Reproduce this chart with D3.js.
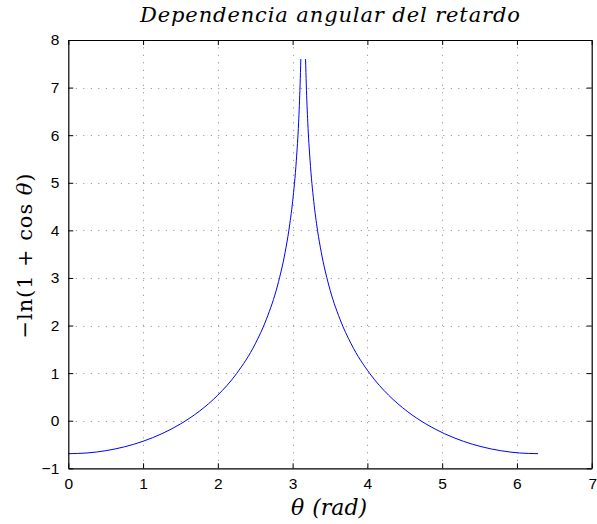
<!DOCTYPE html>
<html>
<head>
<meta charset="utf-8">
<script src="https://cdn.jsdelivr.net/npm/d3@7"></script>
<style>
  body { margin: 0; background: #fff; }
  #plot { width: 597px; height: 524px; }
</style>
</head>
<body>
<div id="plot"></div>
<script>
// values: theta (rad) and -ln(1 + cos theta)
// null at theta = pi where the curve goes to infinity (gap at the peak)
var theta = [0, 0.25, 0.5, 0.75, 1.0, 1.25, 1.5, 1.75, 2.0, 2.25, 2.5, 2.65, 2.8, 2.9, 2.95, 3.0, 3.05, 3.08, 3.10, 3.11,
             3.1416,
             3.173, 3.183, 3.203, 3.233, 3.283, 3.333, 3.383, 3.483, 3.633, 3.783, 4.033, 4.283, 4.533, 4.783, 5.033, 5.283, 5.533, 5.783, 6.033, 6.283];
var delay = [-0.693, -0.678, -0.630, -0.549, -0.432, -0.274, -0.068, 0.196, 0.538, 0.989, 1.615, 2.134, 2.851, 3.540, 4.003, 4.604, 5.475, 6.261, 7.058, 7.60,
             null,
             7.60, 7.058, 6.261, 5.475, 4.604, 4.003, 3.540, 2.851, 2.134, 1.615, 0.989, 0.538, 0.196, -0.068, -0.274, -0.432, -0.549, -0.630, -0.678, -0.693];
var xTicks = [0, 1, 2, 3, 4, 5, 6, 7];
var yTicks = [-1, 0, 1, 2, 3, 4, 5, 6, 7, 8];

var titleText = "Dependencia angular del retardo";

var view = {
    w: 597,
    h: 524,
    left: 68.3,
    right: 591.7,
    top: 40,
    bottom: 468.3
};

var svg = d3.select("#plot")
            .append("svg")
            .attr("width", view.w)
            .attr("height", view.h);

var xScale = d3.scaleLinear().domain([0, 7]).range([view.left, view.right]),
    yScale = d3.scaleLinear().domain([-1, 8]).range([view.bottom, view.top]);

var points = theta.map(function(t, i){ return { x: t, y: delay[i] }; });

// grid
var g_grid = svg.append("g");
g_grid.selectAll(".vgrid")
    .data(xTicks.slice(1, -1))
    .enter().append("line")
    .attr("x1", function(d){ return Math.round(xScale(d)) + 0.5; })
    .attr("x2", function(d){ return Math.round(xScale(d)) + 0.5; })
    .attr("y1", view.bottom)
    .attr("y2", view.top)
    .style("stroke", "#8a8a8a")
    .style("stroke-width", 1)
    .style("stroke-dasharray", "1,6.5");
g_grid.selectAll(".hgrid")
    .data(yTicks.slice(1, -1))
    .enter().append("line")
    .attr("y1", function(d){ return Math.round(yScale(d)) + 0.5; })
    .attr("y2", function(d){ return Math.round(yScale(d)) + 0.5; })
    .attr("x1", view.left)
    .attr("x2", view.right)
    .style("stroke", "#8a8a8a")
    .style("stroke-width", 1)
    .style("stroke-dasharray", "1,6.5");

// curve
var line = d3.line()
    .defined(function(d){ return d.y !== null; })
    .x(function(d){ return xScale(d.x); })
    .y(function(d){ return yScale(d.y); })
    .curve(d3.curveMonotoneX);

svg.append("path")
    .datum(points)
    .attr("d", line)
    .style("fill", "none")
    .style("stroke", "#0000ff")
    .style("stroke-width", 1);

// axes (ticks inside, mirrored on top and right)
var tickLen = 5;
var fmt = function(d){ return d < 0 ? "\u2212" + Math.abs(d) : String(d); };
var xAxisB = d3.axisBottom(xScale).tickValues(xTicks).tickSizeInner(-tickLen).tickSizeOuter(0).tickPadding(10).tickFormat(fmt),
    xAxisT = d3.axisTop(xScale).tickValues(xTicks).tickSizeInner(-tickLen).tickSizeOuter(0).tickFormat(""),
    yAxisL = d3.axisLeft(yScale).tickValues(yTicks).tickSizeInner(-tickLen).tickSizeOuter(0).tickPadding(9).tickFormat(fmt),
    yAxisR = d3.axisRight(yScale).tickValues(yTicks).tickSizeInner(-tickLen).tickSizeOuter(0).tickFormat("");

var axes = [
    svg.append("g").attr("transform", "translate(0," + view.bottom + ")").call(xAxisB),
    svg.append("g").attr("transform", "translate(0," + view.top + ")").call(xAxisT),
    svg.append("g").attr("transform", "translate(" + view.left + ",0)").call(yAxisL),
    svg.append("g").attr("transform", "translate(" + view.right + ",0)").call(yAxisR)
];
axes.forEach(function(g){
    g.attr("font-family", "'Liberation Sans', Arial, sans-serif").attr("font-size", 15.5);
    g.select(".domain").style("stroke", "#000").style("stroke-width", 1.2);
    g.selectAll(".tick line").style("stroke", "#000").style("stroke-width", 1);
    g.selectAll(".tick text").attr("fill", "#000");
});
// last x label sits against the right edge
axes[0].selectAll(".tick text").filter(function(d){ return d === 7; }).attr("text-anchor", "end").attr("dx", 5);

// title
svg.append("text")
    .attr("x", 330)
    .attr("y", 22)
    .attr("text-anchor", "middle")
    .attr("textLength", 380)
    .attr("lengthAdjust", "spacing")
    .style("font-family", "'DejaVu Serif', 'Liberation Serif', serif")
    .style("font-style", "italic")
    .style("font-size", "21px")
    .text(titleText);

// x label
var xl = svg.append("text")
    .attr("x", 329)
    .attr("y", 515)
    .attr("text-anchor", "middle")
    .style("font-family", "'DejaVu Serif', 'Liberation Serif', serif")
    .style("font-size", "22px")
    .style("font-style", "italic");
xl.append("tspan").text("\u03b8");
xl.append("tspan").attr("dx", 8).text("(rad)");

// y label
var yl = svg.append("text")
    .attr("transform", "translate(32,256) rotate(-90)")
    .attr("text-anchor", "middle")
    .attr("textLength", 165)
    .attr("lengthAdjust", "spacing")
    .style("font-family", "'DejaVu Serif', 'Liberation Serif', serif")
    .style("font-size", "21px");
yl.append("tspan").text("\u2212ln(1 + cos ");
yl.append("tspan").style("font-style", "italic").text("\u03b8");
yl.append("tspan").text(")");
</script>
</body>
</html>
